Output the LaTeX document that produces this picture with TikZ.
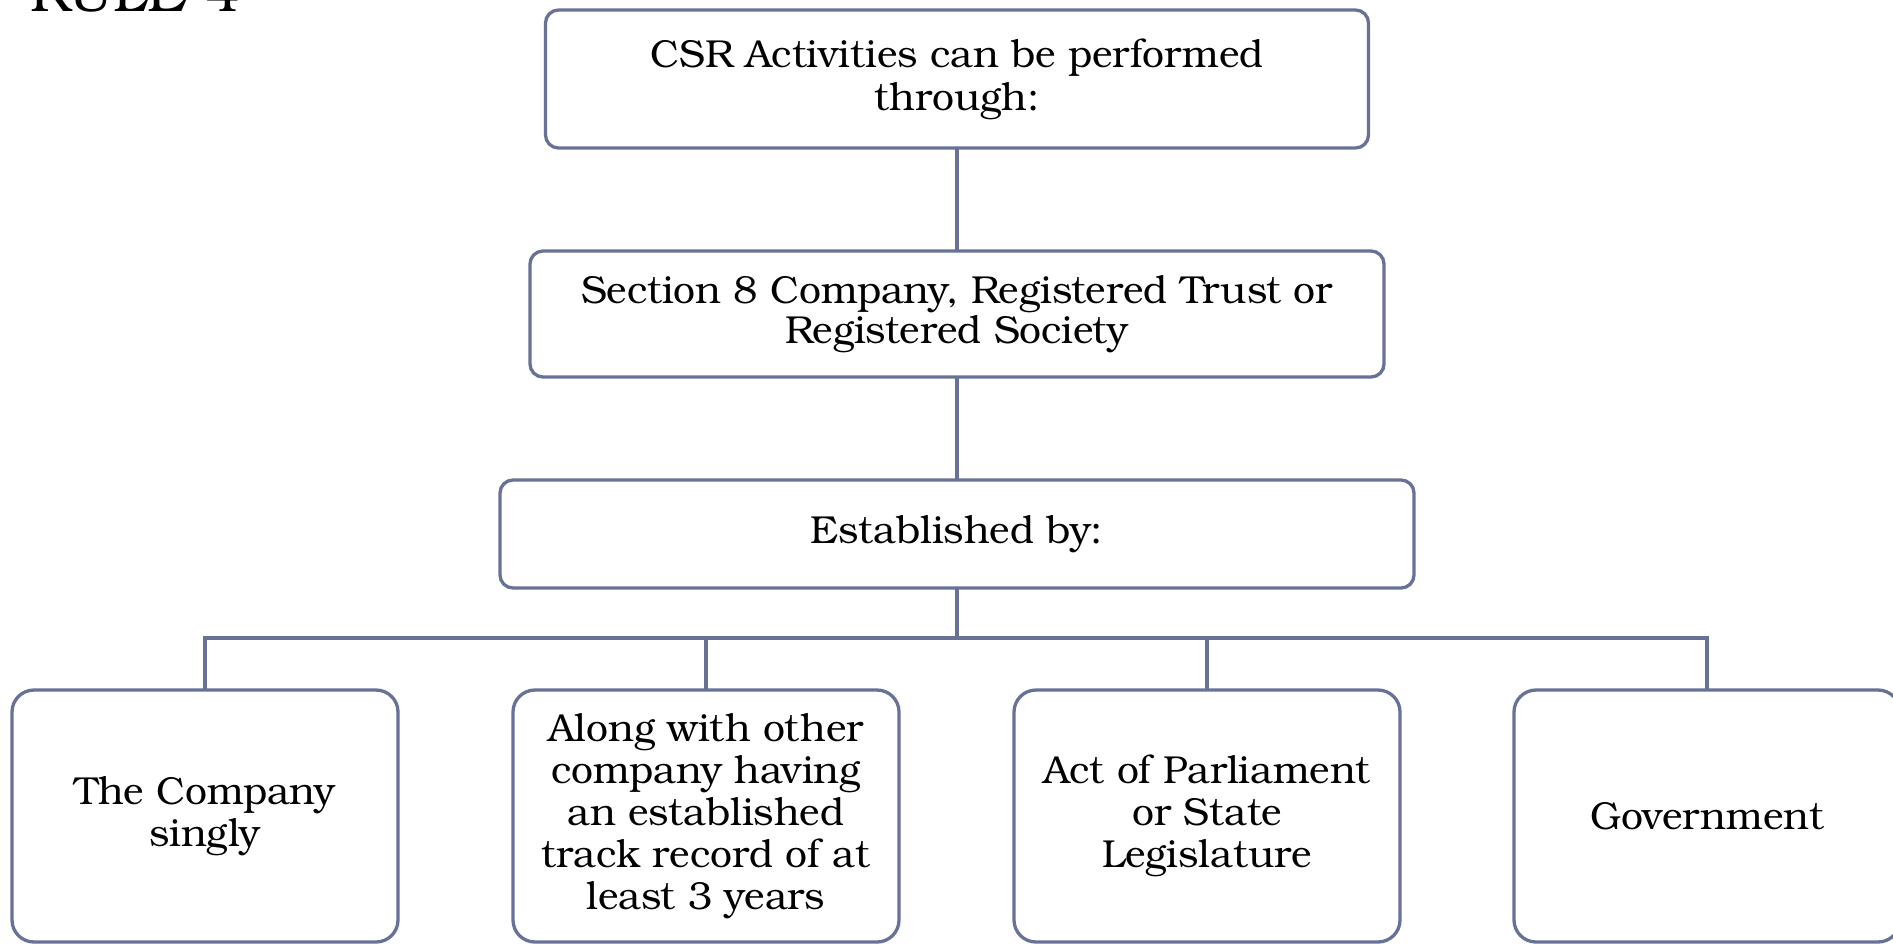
\documentclass[tikz,border=0pt]{standalone}
\usepackage{fontspec}
\setmainfont{TeX Gyre Bonum}
\definecolor{edge}{RGB}{104,114,150}
\tikzset{
  topbox/.style={draw=edge, line width=1.65pt, rounded corners=6.5pt, fill=white,
    inner sep=0pt, outer sep=0pt, align=center, font=\fontsize{19.5}{20}\selectfont},
  leafbox/.style={draw=edge, line width=1.65pt, rounded corners=11pt, fill=white,
    inner sep=0pt, outer sep=0pt, align=center, font=\fontsize{19.5}{21}\selectfont,
    minimum width=193pt, minimum height=126pt},
  link/.style={draw=edge, line width=1.65pt}
}
\begin{document}
\begin{tikzpicture}[x=0.5pt,y=-0.5pt]
\useasboundingbox (0,0) rectangle (1893,944);

% heading, mostly above the top edge
\node[anchor=base west, inner sep=0pt, font=\fontsize{28}{30}\selectfont] (rule) at (30,11) {RULE 4};

% main chain
\node[topbox, minimum width=411.5pt, minimum height=69pt] (b1) at (957,79)
  {\raisebox{-2pt}{\shortstack{CSR Activities can be performed\\through:}}};
\node[topbox, minimum width=427pt, minimum height=63pt] (b2) at (957,314)
  {Section 8 Company, Registered Trust or\\Registered Society};
\node[topbox, minimum width=457pt, minimum height=54pt] (b3) at (957,534)
  {Established by:};

% leaves
\node[leafbox] (la) at (205,816) {The Company\\singly};
\node[leafbox] (lb) at (706,816) {Along with other\\company having\\an established\\track record of at\\least 3 years};
\node[leafbox] (lc) at (1207,816) {Act of Parliament\\or State\\Legislature};
\node[leafbox] (ld) at (1707,816) {Government};

% connectors
\coordinate (hub) at (957,638);
\draw[link] (b1.south) -- (b2.north);
\draw[link] (b2.south) -- (b3.north);
\draw[link] (b3.south) -- (hub);
\draw[link] (hub) -| (la.north);
\draw[link] (hub) -| (lb.north);
\draw[link] (hub) -| (lc.north);
\draw[link] (hub) -| (ld.north);
\end{tikzpicture}
\end{document}
